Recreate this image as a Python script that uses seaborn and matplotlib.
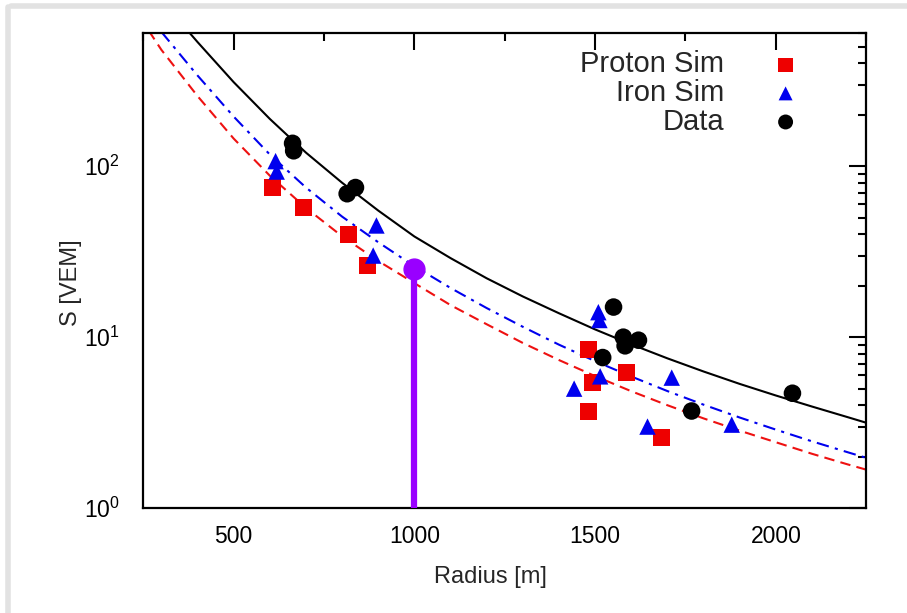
import matplotlib
matplotlib.use("Agg")
import matplotlib.pyplot as plt
import matplotlib.ticker as mticker
import numpy as np
import pandas as pd
import seaborn as sns

# Data points (radius in m, signal in VEM)
proton_r = [607, 694, 817, 871, 1481, 1492, 1481, 1586, 1684]
proton_s = [75, 57, 40, 26.3, 8.5, 5.45, 3.7, 6.25, 2.6]

iron_r = [616, 619, 895, 886, 1509, 1512, 1514, 1442, 1712, 1645, 1878]
iron_s = [107, 93, 45, 30, 14, 12.6, 5.9, 5.0, 5.8, 3.0, 3.08]

data_r = [663, 666, 814, 837, 1551, 1578, 1583, 1620, 1521, 1767, 2046]
data_s = [136, 123, 69, 75, 15.0, 10.0, 8.9, 9.6, 7.6, 3.7, 4.7]

# Fit curves, every 100 m
fit_data_r = [370, 400, 500, 600, 700, 800, 900, 1000, 1100, 1200, 1300, 1400, 1500,
              1600, 1700, 1800, 1900, 2000, 2100, 2200, 2250]
fit_data_s = [630, 532, 310, 189, 120, 80, 55, 38.8, 29.0, 22.1, 17.3, 13.8, 11.1,
              9.08, 7.52, 6.3, 5.33, 4.56, 3.93, 3.40, 3.16]

fit_iron_r = [300, 400, 500, 600, 700, 800, 900, 1000, 1100, 1200, 1300, 1400, 1500,
              1600, 1700, 1800, 1900, 2000, 2100, 2200, 2250]
fit_iron_s = [610, 339, 195, 117, 75, 50.7, 35.9, 26, 19.4, 14.8, 11.5, 9.04, 7.24,
              5.89, 4.84, 4.03, 3.39, 2.88, 2.46, 2.12, 1.97]

fit_proton_r = [265, 300, 400, 500, 600, 700, 800, 900, 1000, 1100, 1200, 1300, 1400, 1500,
                1600, 1700, 1800, 1900, 2000, 2100, 2200, 2250]
fit_proton_s = [620, 479, 257, 145, 88, 57, 38.9, 27.9, 20.7, 15.4, 11.9, 9.25, 7.35, 5.92,
                4.83, 4.0, 3.35, 2.84, 2.43, 2.08, 1.80, 1.68]

# S(1000) marker
s1000_r = [1000]
s1000_s = [25]

sns.set_theme(style="white")
plt.rcParams["font.family"] = ["Liberation Sans", "DejaVu Sans"]
plt.rcParams["mathtext.default"] = "regular"

fig = plt.figure(figsize=(9.07, 6.13), dpi=100)
ax = fig.add_axes([0.158, 0.171, 0.797, 0.775])

df_proton = pd.DataFrame({"r": fit_proton_r, "s": fit_proton_s})
df_iron = pd.DataFrame({"r": fit_iron_r, "s": fit_iron_s})
df_data = pd.DataFrame({"r": fit_data_r, "s": fit_data_s})

sns.lineplot(data=df_data, x="r", y="s", ax=ax, color="black", lw=1.5)
sns.lineplot(data=df_iron, x="r", y="s", ax=ax, color="#0000ee", lw=1.5,
             linestyle=(0, (6, 3, 1.5, 3)))
sns.lineplot(data=df_proton, x="r", y="s", ax=ax, color="#ee1111", lw=1.5,
             linestyle=(0, (5, 3)))

sns.scatterplot(x=proton_r, y=proton_s, ax=ax, marker="s", s=150, color="#ee0000",
                edgecolor="none", label="Proton Sim", zorder=5)
sns.scatterplot(x=iron_r, y=iron_s, ax=ax, marker="^", s=140, color="#0000ee",
                edgecolor="none", label="Iron Sim", zorder=5)
sns.scatterplot(x=data_r, y=data_s, ax=ax, marker="o", s=160, color="black",
                edgecolor="none", label="Data", zorder=5)

# S(1000) line
ax.vlines(s1000_r, 1, s1000_s, color="#9900ff", lw=4.5, zorder=6)
ax.plot(s1000_r, s1000_s, "o", color="#9900ff", ms=15, zorder=7)

ax.set_yscale("log")
ax.set_xlim(250, 2250)
ax.set_ylim(1, 600)
ax.xaxis.set_major_locator(mticker.MultipleLocator(500))
ax.xaxis.set_minor_locator(mticker.MultipleLocator(250))
ax.yaxis.set_major_locator(mticker.LogLocator(base=10, numticks=10))
ax.yaxis.set_minor_locator(mticker.LogLocator(base=10, subs=np.arange(2, 10), numticks=10))
ax.yaxis.set_minor_formatter(mticker.NullFormatter())

ax.tick_params(which="both", direction="in", top=True, right=True, colors="black",
               labelsize=16.5, width=1.5)
ax.tick_params(which="major", length=12)
ax.tick_params(which="minor", length=6)
ax.tick_params(axis="x", pad=12)
ax.tick_params(axis="y", pad=17)
for sp in ax.spines.values():
    sp.set_color("black")
    sp.set_linewidth(1.6)

ax.set_xlabel("Radius [m]", fontsize=17)
ax.set_ylabel("S [VEM]", fontsize=17)
ax.xaxis.set_label_coords(0.48, -0.122)
ax.yaxis.set_label_coords(-0.085, 0.474)

leg = ax.legend(loc="upper right", bbox_to_anchor=(0.945, 0.988), borderaxespad=0,
                frameon=False, markerfirst=False, fontsize=21,
                handletextpad=1.1, labelspacing=0.02, markerscale=0.85)
for t in leg.get_texts():
    t.set_ha("right")

# faint screenshot shadow on the top and left edges
fig.add_artist(plt.Line2D([0.012, 1.0], [0.990, 0.990], color="#e2e2e2", lw=4, transform=fig.transFigure))
fig.add_artist(plt.Line2D([0.009, 0.009], [0.0, 0.988], color="#e2e2e2", lw=4, transform=fig.transFigure))

fig.savefig("out.png", dpi=100)
